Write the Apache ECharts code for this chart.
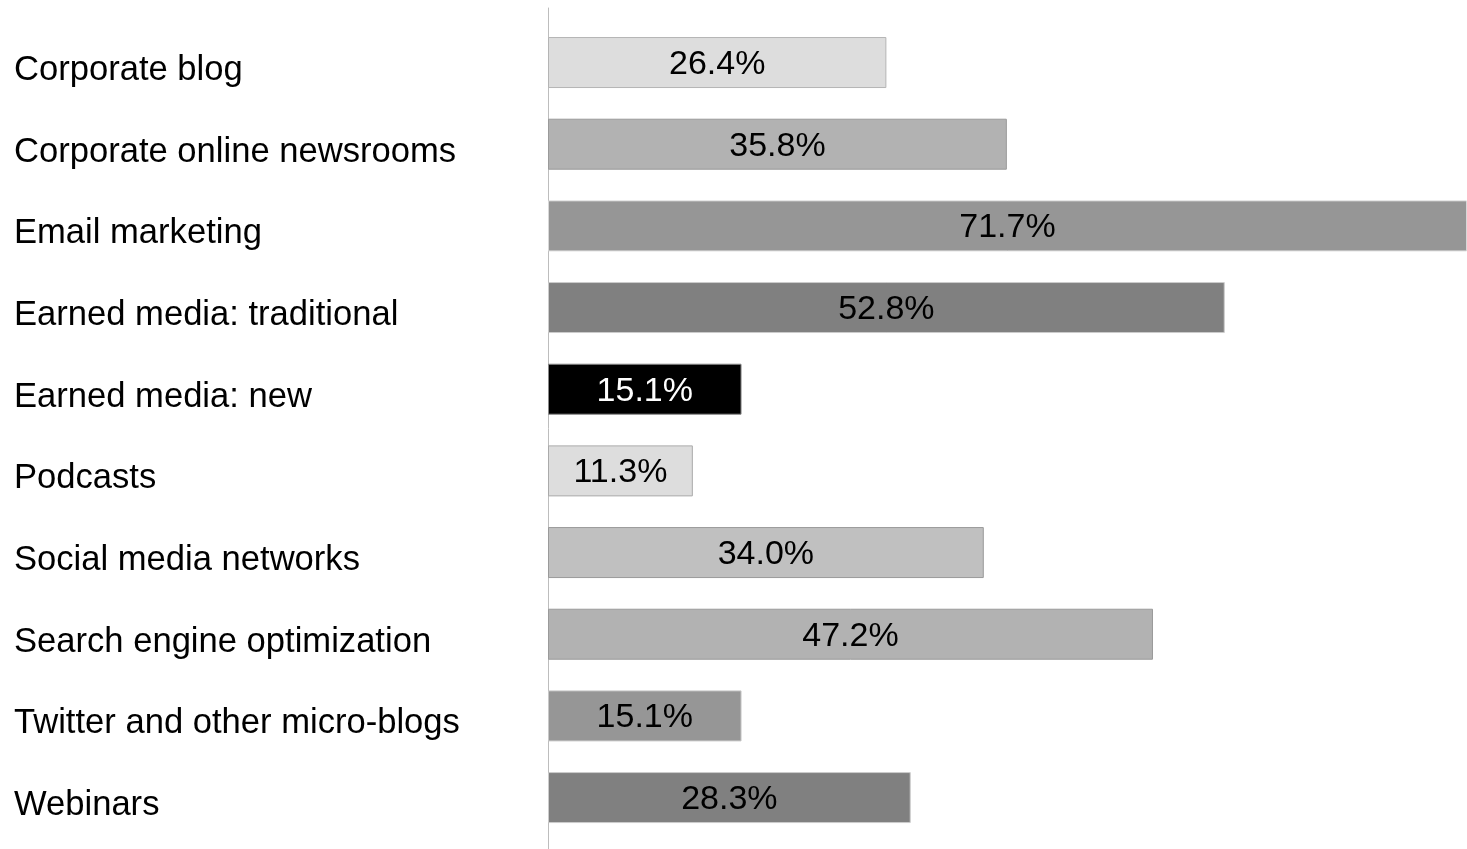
<!DOCTYPE html>
<html>
<head>
<meta charset="utf-8">
<title>Channels used</title>
<script src="https://cdn.jsdelivr.net/npm/echarts@6/dist/echarts.min.js"></script>
<style>
  html, body { margin: 0; padding: 0; background: #ffffff; }
  #chart { width: 1467px; height: 849px; }
</style>
</head>
<body>
<div id="chart"></div>
<script>
// Channels and the share of respondents using each one (%)
const categories = [
  'Corporate blog',
  'Corporate online newsrooms',
  'Email marketing',
  'Earned media: traditional',
  'Earned media: new',
  'Podcasts',
  'Social media networks',
  'Search engine optimization',
  'Twitter and other micro-blogs',
  'Webinars'
];
const shares = [26.4, 35.8, 71.7, 52.8, 15.1, 11.3, 34.0, 47.2, 15.1, 28.3];

// Bar styling, one entry per channel
const fillColors   = ['#dddddd', '#b2b2b2', '#969696', '#808080', '#000000', '#dddddd', '#c0c0c0', '#b2b2b2', '#969696', '#808080'];
const borderColors = ['#b4b4b4', '#9a9a9a', '#d8d8d8', '#cccccc', '#888888', '#aaaaaa', '#9a9a9a', '#9a9a9a', '#c8c8c8', '#cccccc'];
const labelColors  = ['#000000', '#000000', '#000000', '#000000', '#ffffff', '#000000', '#000000', '#000000', '#000000', '#000000'];

const FONT = '"Liberation Sans", Arial, Helvetica, sans-serif';

const chart = echarts.init(document.getElementById('chart'), null, { renderer: 'canvas' });

chart.setOption({
  animation: false,
  backgroundColor: '#ffffff',
  grid: [
    { left: 548, right: 0, top: 21.7, bottom: 10.6, containLabel: false },
    // full-height frame that carries the vertical baseline
    { left: 548, right: 0, top: 8, bottom: 0, containLabel: false }
  ],
  xAxis: [
    { type: 'value', gridIndex: 0, min: 0, max: 71.7, show: false },
    { type: 'value', gridIndex: 1, min: 0, max: 1, show: false }
  ],
  yAxis: [
    {
      type: 'category',
      gridIndex: 0,
      data: categories,
      inverse: true,
      axisLine: { show: false },
      axisTick: { show: false },
      splitLine: { show: false },
      axisLabel: {
        align: 'left',
        margin: 534,
        formatter: v => '{cat|' + v + '}',
        rich: {
          cat: {
            padding: [16, 0, 0, 0],
            color: '#000000',
            fontFamily: FONT,
            fontSize: 34.6
          }
        }
      }
    },
    {
      type: 'value',
      gridIndex: 1,
      min: 0,
      max: 1,
      axisLine: { show: true, lineStyle: { color: '#bdbdbd', width: 1 } },
      axisTick: { show: false },
      axisLabel: { show: false },
      splitLine: { show: false }
    }
  ],
  series: [
    {
      type: 'bar',
      xAxisIndex: 0,
      yAxisIndex: 0,
      barWidth: 51,
      data: shares.map((v, i) => ({
        value: v,
        itemStyle: { color: fillColors[i], borderColor: borderColors[i], borderWidth: 1 },
        label: { color: labelColors[i] }
      })),
      label: {
        show: true,
        position: 'inside',
        offset: [0, 2],
        fontFamily: FONT,
        fontSize: 34,
        formatter: p => p.value.toFixed(1) + '%'
      }
    }
  ]
});
</script>
</body>
</html>
